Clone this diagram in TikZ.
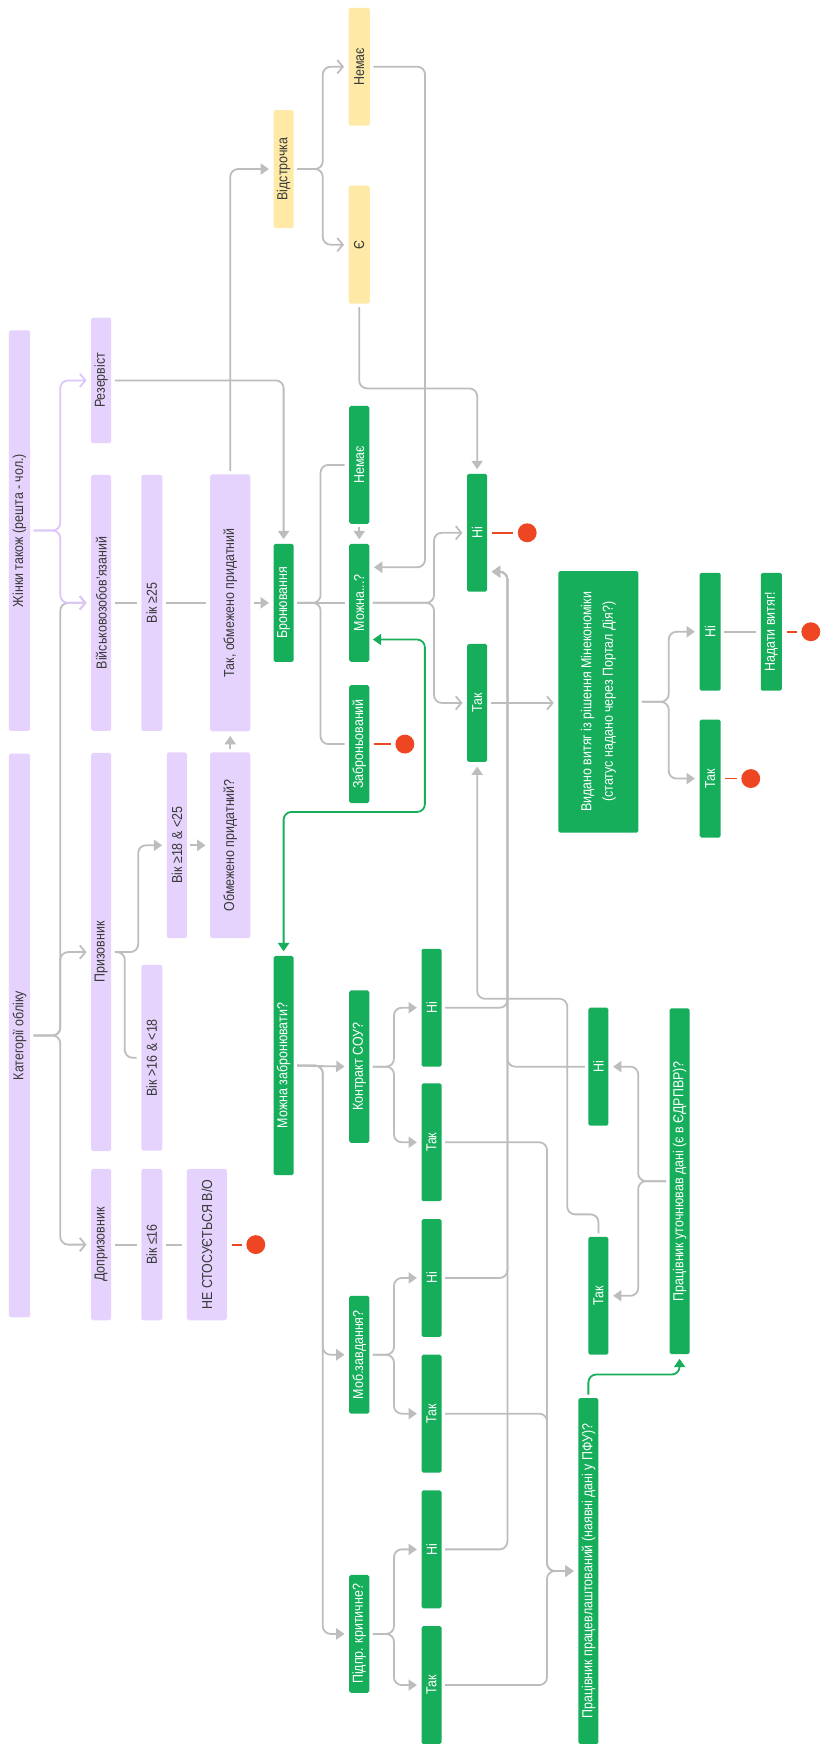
\documentclass[tikz,border=0pt]{standalone}
\usepackage{fontspec}
\setmainfont{Liberation Sans}[FakeStretch=0.86]
\usepackage{xcolor}
\usetikzlibrary{positioning, arrows.meta, calc}
\definecolor{lilac}{HTML}{E5D3FD}
\definecolor{lilacline}{HTML}{DCC6FA}
\definecolor{leaf}{HTML}{17AE5B}
\definecolor{sand}{HTML}{FFE9A6}
\definecolor{wire}{HTML}{BDBDBD}
\definecolor{alarm}{HTML}{EE4623}
\definecolor{ink}{HTML}{383838}
\begin{document}
\begin{tikzpicture}[x=1pt, y=-1pt, font=\fontsize{13}{19.5}\selectfont]
	\tikzstyle{tile}=[rectangle, rounded corners=1.5pt, rotate=90, inner sep=0pt, align=center]
	\tikzstyle{lil}=[tile, fill=lilac, text=ink]
	\tikzstyle{ylw}=[tile, fill=sand, text=ink, minimum width=106pt, minimum height=18pt]
	\tikzstyle{grn}=[tile, fill=leaf, text=white]
	\tikzstyle{ans}=[grn, minimum width=106pt, minimum height=18pt]
	\tikzstyle{conn}=[draw=wire, line width=1.6pt, rounded corners=7pt, shorten <=3pt, shorten >=4pt]
	\tikzstyle{arr}=[conn, -{Triangle[length=7.5pt,width=10pt]}]
	\tikzstyle{oarr}=[conn, -{Straight Barb[length=5pt,width=12pt]}]
	\tikzstyle{parr}=[conn, draw=lilacline, -{Straight Barb[length=5pt,width=12pt]}]
	\tikzstyle{garr}=[conn, draw=leaf, {Triangle[length=7.5pt,width=10pt]}-{Triangle[length=7.5pt,width=10pt]}]
	\tikzstyle{garrone}=[conn, draw=leaf, -{Triangle[length=7.5pt,width=10pt]}]
	\tikzstyle{stopdot}=[circle, fill=alarm, minimum size=17pt, inner sep=0pt]
	\tikzstyle{stopline}=[draw=alarm, line width=1.6pt, shorten <=4pt, shorten >=4pt]
	\fill[white] (0,0) rectangle (744,1568);
	\useasboundingbox (0,0) rectangle (744,1568);

	\node[lil, minimum width=360pt, minimum height=19pt] (zhin) at (17.5,477) {Жінки також (решта - чол.)};
	\node[lil, minimum width=507pt, minimum height=19pt] (kat) at (17.5,931) {Категорії обліку};
	\node[lil, minimum width=113pt, minimum height=18pt] (rez) at (91,342) {Резервіст};
	\node[lil, minimum width=230pt, minimum height=18pt] (vzob) at (91,542) {Військовозобов’язаний};
	\node[lil, minimum width=358pt, minimum height=18pt] (pryz) at (91,856) {Призовник};
	\node[lil, minimum width=136pt, minimum height=18pt] (dopr) at (91,1119) {Допризовник};
	\node[lil, minimum width=230pt, minimum height=19pt] (v25) at (136.5,542) {Вік ≥25};
	\node[lil, minimum width=167pt, minimum height=19pt] (v1618) at (136.5,951) {Вік >16 \& <18};
	\node[lil, minimum width=136pt, minimum height=19pt] (v16) at (136.5,1119) {Вік ≤16};
	\node[lil, minimum width=167pt, minimum height=18pt] (v1825) at (159,760) {Вік ≥18 \& <25};
	\node[lil, minimum width=167pt, minimum height=36pt] (obm) at (207,760) {Обмежено придатний?};
	\node[lil, minimum width=231pt, minimum height=36pt] (takobm) at (207,542) {Так, обмежено придатний};
	\node[lil, minimum width=136pt, minimum height=36pt] (nestos) at (186,1119) {НЕ СТОСУЄТЬСЯ В/О};

	\node[ylw] (vidstr) at (255,152) {Відстрочка};
	\node[ylw, minimum height=19pt] (nemy) at (323,60) {Немає};
	\node[ylw, minimum height=19pt] (ye) at (323,220) {Є};

	\node[ans] (bron) at (255,542) {Бронювання};
	\node[grn, minimum width=197pt, minimum height=18pt] (mzab) at (255,958) {Можна забронювати?};
	\node[ans] (nemg) at (323,418) {Немає};
	\node[ans] (mozh) at (323,542) {Можна...?};
	\node[ans] (zabr) at (323,669) {Заброньований};
	\node[grn, minimum width=137pt, minimum height=18pt] (sou) at (323,959) {Контракт СОУ?};
	\node[ans] (mob) at (323,1218) {Моб.завдання?};
	\node[ans] (krit) at (323,1469) {Підпр. критичне?};
	\node[ans] (souno) at (388,906) {Ні};
	\node[ans] (souyes) at (388,1027) {Так};
	\node[ans] (mobno) at (388,1149) {Ні};
	\node[ans] (mobyes) at (388,1271) {Так};
	\node[ans] (kritno) at (388,1393) {Ні};
	\node[ans] (krityes) at (388,1515) {Так};
	\node[ans] (no) at (429,479) {Ні};
	\node[ans] (yes) at (429,632) {Так};
	\node[grn, minimum width=235pt, minimum height=72pt] (vytyah) at (538,631) {Видано витяг із рішення Мінекономіки\\(статус надано через Портал Дія?)};
	\node[ans, minimum height=19pt] (vytno) at (638.5,568) {Ні};
	\node[ans, minimum height=19pt] (vytyes) at (638.5,700) {Так};
	\node[ans, minimum height=19pt] (nadaty) at (693.5,568) {Надати витяг!};
	\node[ans] (utno) at (538,959) {Ні};
	\node[ans] (utyes) at (538,1165) {Так};
	\node[grn, minimum width=311pt, minimum height=18pt] (utoch) at (611,1062) {Працівник уточнював дані (є в ЄДРПВР)?};
	\node[grn, minimum width=311pt, minimum height=18pt] (pfu) at (529,1412.5) {Працівник працевлаштований (наявні дані у ПФУ)?};

	\node[stopdot] (s1) at (230,1119) {};
	\node[stopdot] (s2) at (364,669) {};
	\node[stopdot] (s3) at (474,479) {};
	\node[stopdot] (s4) at (675,700) {};
	\node[stopdot] (s5) at (729,568) {};

	\coordinate (mozhin) at ($(mozh.south)+(0,-32)$);
	\coordinate (mozhg) at ($(mozh.south)+(0,33)$);
	\coordinate (noin) at ($(no.south)+(0,35)$);
	\coordinate (notrunk) at ($(noin)+(18,0)$);
	\coordinate (yestrunk) at ($(pfu.north)+(-28,0)$);
	\coordinate (yesbend) at (429,898);
	\coordinate (gbend) at (382,730);

	\draw[oarr] (kat.south) -- ++(27,0) |- (vzob.north);
	\draw[oarr] (kat.south) -- ++(27,0) |- (pryz.north);
	\draw[oarr] (kat.south) -- ++(27,0) |- (dopr.north);
	\draw[parr] (zhin.south) -- ++(27,0) |- (rez.north);
	\draw[parr] (zhin.south) -- ++(27,0) |- (vzob.north);
	\draw[arr] (pryz.south) -- ++(24,0) |- (v1825.north);
	\draw[conn] (pryz.south) -- ++(12,0) |- (v1618.north);
	\draw[conn] (vzob.south) -- (v25.north);
	\draw[conn] (v25.south) -- (takobm.north);
	\draw[conn] (dopr.south) -- (v16.north);
	\draw[conn] (v16.south) -- (nestos.north);
	\draw[arr] (v1825.south) -- (obm.north);
	\draw[arr] (obm.east) -- (takobm.west);
	\draw[arr] (takobm.south) -- (bron.north);
	\draw[arr] (takobm.east) |- (vidstr.north);
	\draw[arr] (rez.south) -| (bron.east);
	\draw[oarr] (vidstr.south) -- ++(26,0) |- (nemy.north);
	\draw[oarr] (vidstr.south) -- ++(26,0) |- (ye.north);
	\draw[arr] (nemy.south) -- ++(49.5,0) |- (mozhin);
	\draw[arr] (ye.west) -- ++(0,76) -| (no.east);
	\draw[conn] (bron.south) -- ++(24,0) |- (nemg.north);
	\draw[conn] (bron.south) -- (mozh.north);
	\draw[conn] (bron.south) -- ++(24,0) |- (zabr.north);
	\draw[arr] (nemg.west) -- (mozh.east);
	\draw[oarr] (mozh.south) -- ++(58,0) |- (no.north);
	\draw[oarr] (mozh.south) -- ++(58,0) |- (yes.north);
	\draw[oarr] (yes.south) -- (yes.south -| vytyah.north);
	\draw[arr] (vytyah.south) -- ++(27,0) |- (vytno.north);
	\draw[arr] (vytyah.south) -- ++(27,0) |- (vytyes.north);
	\draw[conn] (vytno.south) -- (nadaty.north);
	\draw[arr] (mzab.south) -- (sou.north);
	\draw[arr] (mzab.south) -- ++(26,0) |- (mob.north);
	\draw[arr] (mzab.south) -- ++(26,0) |- (krit.north);
	\draw[arr] (sou.south) -- ++(22,0) |- (souno.north);
	\draw[arr] (sou.south) -- ++(22,0) |- (souyes.north);
	\draw[arr] (mob.south) -- ++(22,0) |- (mobno.north);
	\draw[arr] (mob.south) -- ++(22,0) |- (mobyes.north);
	\draw[arr] (krit.south) -- ++(22,0) |- (kritno.north);
	\draw[arr] (krit.south) -- ++(22,0) |- (krityes.north);
	\draw[arr] (souno.south) -| (notrunk) -- (noin);
	\draw[arr] (mobno.south) -| (notrunk) -- (noin);
	\draw[arr] (kritno.south) -| (notrunk) -- (noin);
	\draw[arr] (utno.north) -| (notrunk) -- (noin);
	\draw[arr] (souyes.south) -| (yestrunk) -- (pfu.north);
	\draw[arr] (mobyes.south) -| (yestrunk) -- (pfu.north);
	\draw[arr] (krityes.south) -| (yestrunk) -- (pfu.north);
	\draw[arr] (utoch.north) -- ++(-28,0) |- (utno.south);
	\draw[arr] (utoch.north) -- ++(-28,0) |- (utyes.south);
	\draw[arr] (utyes.east) -- ++(0,-20) -- ++(-28,0) |- (yesbend) -- (yes.west);
	\draw[garr] (mozhg) -| (gbend) -| (mzab.east);
	\draw[garrone] (pfu.east) -- ++(0,-21) -| (utoch.west);

	\draw[stopline] (nestos.south) -- (s1);
	\draw[stopline] (zabr.south) -- (s2);
	\draw[stopline] (no.south) -- (s3);
	\draw[stopline] (vytyes.south) -- (s4);
	\draw[stopline] (nadaty.south) -- (s5);
\end{tikzpicture}
\end{document}
